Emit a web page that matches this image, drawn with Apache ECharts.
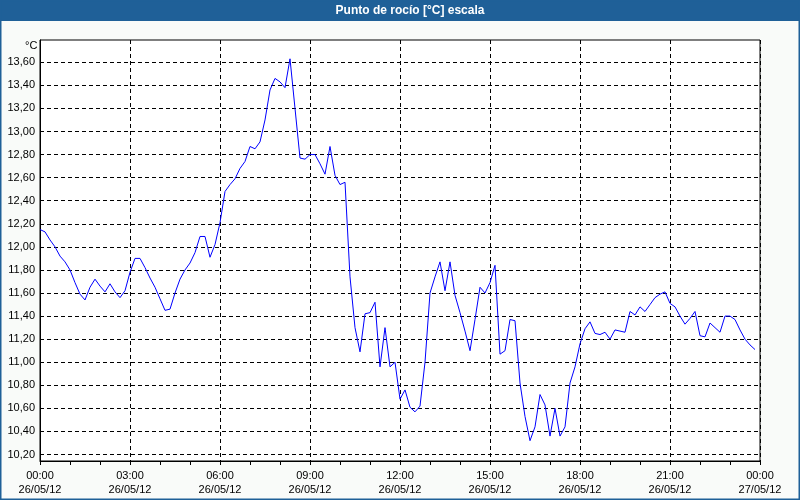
<!DOCTYPE html>
<html><head><meta charset="utf-8">
<script src="https://cdn.jsdelivr.net/npm/echarts@6/dist/echarts.min.js"></script>
<style>html,body{margin:0;padding:0;background:#f9fbf9;}#c{width:800px;height:500px;}</style>
</head><body><div id="c"></div>
<script>
var titleText = 'Punto de rocío [°C] escala';
var unitLabel = '°C';
var startDay = '26/05/12';
var endDay = '27/05/12';
var stepMinutes = 10;
var yTicks = [10.2,10.4,10.6,10.8,11.0,11.2,11.4,11.6,11.8,12.0,12.2,12.4,12.6,12.8,13.0,13.2,13.4,13.6];
var dewPoint = [
12.15,12.13,12.06,12.00,11.92,11.87,11.80,11.69,11.59,11.54,
11.65,11.72,11.66,11.61,11.68,11.61,11.56,11.62,11.78,11.90,
11.90,11.82,11.73,11.65,11.55,11.45,11.46,11.60,11.72,11.80,
11.86,11.95,12.09,12.09,11.91,12.02,12.21,12.48,12.54,12.59,
12.68,12.74,12.87,12.85,12.91,13.10,13.36,13.46,13.43,13.38,
13.63,13.20,12.77,12.76,12.80,12.80,12.72,12.63,12.87,12.62,
12.54,12.56,11.74,11.30,11.09,11.42,11.43,11.52,10.96,11.30,
10.96,11.00,10.68,10.76,10.61,10.57,10.62,11.00,11.60,11.74,
11.87,11.62,11.87,11.58,11.43,11.27,11.10,11.37,11.65,11.60,
11.69,11.84,11.07,11.10,11.37,11.36,10.82,10.53,10.32,10.44,
10.72,10.63,10.36,10.60,10.36,10.44,10.82,10.96,11.16,11.29,
11.35,11.25,11.24,11.26,11.20,11.28,11.27,11.26,11.44,11.41,
11.48,11.44,11.50,11.56,11.59,11.61,11.51,11.48,11.40,11.33,
11.38,11.44,11.23,11.22,11.34,11.30,11.26,11.40,11.40,11.37,
11.28,11.20,11.15,11.11
];
// time categories: one full day at the sampling step, plus the closing midnight
var categories = [];
for (var m = 0; m <= 24*60; m += stepMinutes) {
  var hh = Math.floor(m/60) % 24, mm = m % 60;
  var day = m >= 24*60 ? endDay : startDay;
  categories.push(day + ' ' + (hh<10?'0':'') + hh + ':' + (mm<10?'0':'') + mm);
}
var FONT = 'Liberation Sans';
var chart = echarts.init(document.getElementById('c'), null, {renderer:'canvas'});
chart.setOption({
  animation: false,
  backgroundColor: '#f9fbf9',
  textStyle: {fontFamily: FONT},
  graphic: [
    {type:'rect', z:-1, shape:{x:0,y:0,width:800,height:21}, style:{fill:'#1f6098'}},
    {type:'rect', z:100, shape:{x:0.5,y:0.5,width:799,height:499}, style:{fill:'none', stroke:'#1f6098', lineWidth:2}},
    {type:'text', z:101, x: 410, y: 11, style:{text: titleText, fill:'#ffffff', font: 'bold 12px ' + FONT, textAlign:'center', textVerticalAlign:'middle', verticalAlign:'middle'}},
    {type:'text', left: 25, top: 40, style:{text: unitLabel, fill:'#000', font: '11px ' + FONT}}
  ],
  grid: {left: 40, right: 40, top: 40, bottom: 39, show: true, backgroundColor: '#ffffff', borderColor: '#000', borderWidth: 1},
  xAxis: {
    type: 'category', data: categories, boundaryGap: false,
    axisLine: {lineStyle: {color: '#000'}},
    axisTick: {show: true, interval: 5, length: 4, lineStyle: {color: '#000'}},
    axisLabel: {interval: 17, color: '#000', fontSize: 11, lineHeight: 14, margin: 8, fontFamily: FONT,
      formatter: function (v) { var p = v.split(' '); return p[1] + '\n' + p[0]; }},
    splitLine: {show: true, interval: 17, lineStyle: {color: '#000', type: [4,3], width: 1}}
  },
  yAxis: {
    type: 'value', min: 10.144, max: 13.793,
    axisLine: {show: true, lineStyle: {color: '#000'}},
    axisTick: {show: false, customValues: yTicks},
    axisLabel: {customValues: yTicks, color: '#000', fontSize: 11, margin: 5, fontFamily: FONT,
      formatter: function (v) { return v.toFixed(2).replace('.', ','); }},
    splitLine: {show: true, lineStyle: {color: '#000', type: [4,3], width: 1}}
  },
  series: [{
    type: 'line', data: dewPoint, showSymbol: false, symbol: 'none',
    lineStyle: {color: '#0000ff', width: 1}, z: 5
  }]
});
</script>
</body></html>
